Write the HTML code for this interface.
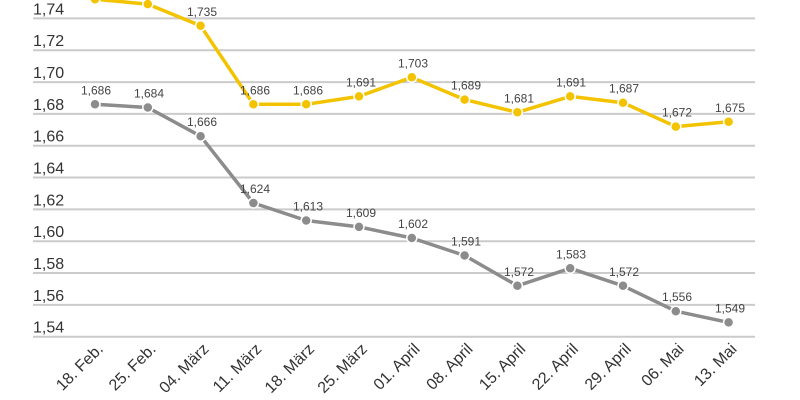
<!DOCTYPE html>
<html><head><meta charset="utf-8"><style>
html,body{margin:0;padding:0;background:#fff;}
svg{display:block;font-family:"Liberation Sans",sans-serif;}
</style></head><body>
<svg width="800" height="400" viewBox="0 0 800 400" xmlns="http://www.w3.org/2000/svg">
<g stroke="#cbcbcb" stroke-width="2">
<line x1="33" x2="755" y1="18.4" y2="18.4"/>
<line x1="33" x2="755" y1="50.2" y2="50.2"/>
<line x1="33" x2="755" y1="82.1" y2="82.1"/>
<line x1="33" x2="755" y1="113.9" y2="113.9"/>
<line x1="33" x2="755" y1="145.7" y2="145.7"/>
<line x1="33" x2="755" y1="177.5" y2="177.5"/>
<line x1="33" x2="755" y1="209.4" y2="209.4"/>
<line x1="33" x2="755" y1="241.2" y2="241.2"/>
<line x1="33" x2="755" y1="273.0" y2="273.0"/>
<line x1="33" x2="755" y1="304.9" y2="304.9"/>
<line x1="33" x2="755" y1="336.7" y2="336.7"/>
</g>
<g fill="#333" font-size="16">
<text x="33" y="14.4">1,74</text>
<text x="33" y="46.2">1,72</text>
<text x="33" y="78.1">1,70</text>
<text x="33" y="109.9">1,68</text>
<text x="33" y="141.7">1,66</text>
<text x="33" y="173.5">1,64</text>
<text x="33" y="205.4">1,62</text>
<text x="33" y="237.2">1,60</text>
<text x="33" y="269.0">1,58</text>
<text x="33" y="300.9">1,56</text>
<text x="33" y="332.7">1,54</text>
</g>
<!-- gray series -->
<polyline fill="none" stroke="#8c8c8c" stroke-width="3.5" stroke-linejoin="round" points="95,104.3 147.8,107.5 200.6,136.2 253.4,203.0 306.2,220.5 359,226.9 411.8,238.0 464.6,255.5 517.4,285.8 570.2,268.3 623,285.8 675.8,311.2 728.6,322.4"/>
<g fill="#8c8c8c" stroke="#fff" stroke-width="1.5">
<circle cx="95" cy="104.3" r="5"/><circle cx="147.8" cy="107.5" r="5"/><circle cx="200.6" cy="136.2" r="5"/><circle cx="253.4" cy="203.0" r="5"/><circle cx="306.2" cy="220.5" r="5"/><circle cx="359" cy="226.9" r="5"/><circle cx="411.8" cy="238.0" r="5"/><circle cx="464.6" cy="255.5" r="5"/><circle cx="517.4" cy="285.8" r="5"/><circle cx="570.2" cy="268.3" r="5"/><circle cx="623" cy="285.8" r="5"/><circle cx="675.8" cy="311.2" r="5"/><circle cx="728.6" cy="322.4" r="5"/>
</g>
<!-- yellow series -->
<polyline fill="none" stroke="#f3c300" stroke-width="3.5" stroke-linejoin="round" points="95,-0.7 147.8,4.1 200.6,25.8 253.4,104.3 306.2,104.3 359,96.4 411.8,77.3 464.6,99.6 517.4,112.3 570.2,96.4 623,102.7 675.8,126.6 728.6,121.8"/>
<g fill="#f3c300" stroke="#fff" stroke-width="1.5">
<circle cx="95" cy="-0.7" r="5"/><circle cx="147.8" cy="4.1" r="5"/><circle cx="200.6" cy="25.8" r="5"/><circle cx="253.4" cy="104.3" r="5"/><circle cx="306.2" cy="104.3" r="5"/><circle cx="359" cy="96.4" r="5"/><circle cx="411.8" cy="77.3" r="5"/><circle cx="464.6" cy="99.6" r="5"/><circle cx="517.4" cy="112.3" r="5"/><circle cx="570.2" cy="96.4" r="5"/><circle cx="623" cy="102.7" r="5"/><circle cx="675.8" cy="126.6" r="5"/><circle cx="728.6" cy="121.8" r="5"/>
</g>
<g fill="#444" font-size="12" text-anchor="middle">
<text x="96" y="94.3">1,686</text>
<text x="149" y="97.5">1,684</text>
<text x="202" y="126.2">1,666</text>
<text x="255" y="193.0">1,624</text>
<text x="308" y="210.5">1,613</text>
<text x="361" y="216.9">1,609</text>
<text x="413" y="228.0">1,602</text>
<text x="466" y="245.5">1,591</text>
<text x="519" y="275.8">1,572</text>
<text x="571" y="258.3">1,583</text>
<text x="624" y="275.8">1,572</text>
<text x="677" y="301.2">1,556</text>
<text x="730" y="312.4">1,549</text>
<text x="202" y="15.8">1,735</text>
<text x="255" y="94.3">1,686</text>
<text x="308" y="94.3">1,686</text>
<text x="361" y="86.4">1,691</text>
<text x="413" y="67.3">1,703</text>
<text x="466" y="89.6">1,689</text>
<text x="519" y="102.3">1,681</text>
<text x="571" y="86.4">1,691</text>
<text x="624" y="92.7">1,687</text>
<text x="677" y="116.6">1,672</text>
<text x="730" y="111.8">1,675</text>
</g>
<g fill="#333" font-size="16" text-anchor="end">
<text transform="translate(104,350) rotate(-45)">18. Feb.</text>
<text transform="translate(156.8,350) rotate(-45)">25. Feb.</text>
<text transform="translate(209.6,350) rotate(-45)">04. März</text>
<text transform="translate(262.4,350) rotate(-45)">11. März</text>
<text transform="translate(315.2,350) rotate(-45)">18. März</text>
<text transform="translate(368,350) rotate(-45)">25. März</text>
<text transform="translate(420.8,350) rotate(-45)">01. April</text>
<text transform="translate(473.6,350) rotate(-45)">08. April</text>
<text transform="translate(526.4,350) rotate(-45)">15. April</text>
<text transform="translate(579.2,350) rotate(-45)">22. April</text>
<text transform="translate(632,350) rotate(-45)">29. April</text>
<text transform="translate(684.8,350) rotate(-45)">06. Mai</text>
<text transform="translate(737.6,350) rotate(-45)">13. Mai</text>
</g>
</svg>
</body></html>
